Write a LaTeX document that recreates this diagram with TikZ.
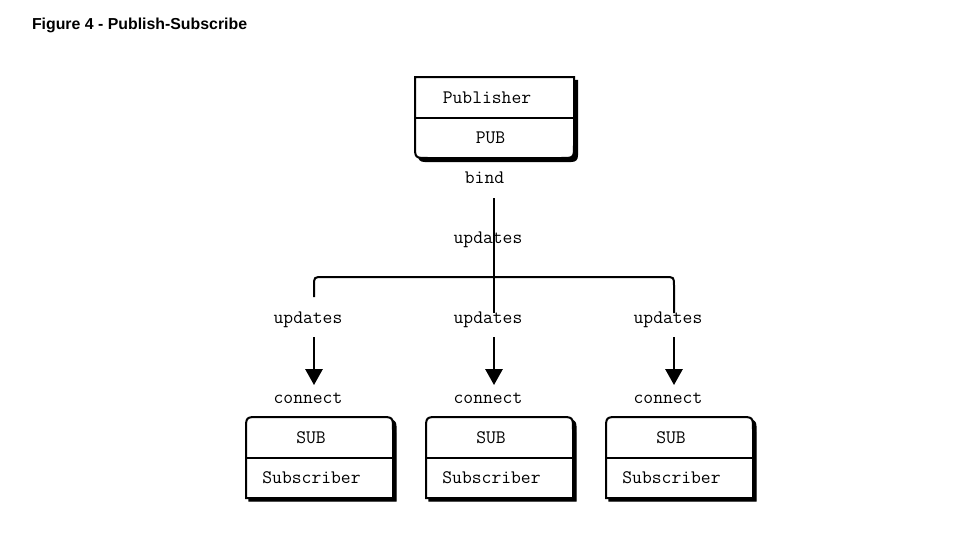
\documentclass[tikz,border=0pt]{standalone}
\usepackage{fontspec}
\setmainfont{Liberation Sans}
\setmonofont{Latin Modern Mono}
\usetikzlibrary{arrows.meta}
\begin{document}
\begin{tikzpicture}[x=0.75pt,y=-0.75pt,line width=1.5pt,
  lbl/.style={font=\ttfamily\fontsize{14.3}{16}\selectfont,inner sep=0pt,anchor=base},
  shadowbox/.style={fill=black,draw=black,line width=1pt},
  boxface/.style={fill=white,draw=black,line width=1.5pt},
  conn/.style={draw=black,line width=1.5pt},
  arr/.style={conn,-{Triangle[length=12pt,width=13pt]}}]
\useasboundingbox (0,0) rectangle (958,543);
% title
\node[font=\bfseries\fontsize{11.9}{14}\selectfont,inner sep=0pt,anchor=base west] (title) at (31,29) {Figure 4 - Publish-Subscribe};
% publisher box
\path[shadowbox,shift={(3.5,3.5)}] (415,77) -- (574,77) -- (574,145) .. controls (574,158) .. (561,158) -- (428,158) .. controls (415,158) .. (415,145) -- cycle;
\path[boxface] (415,77) -- (574,77) -- (574,145) .. controls (574,158) .. (561,158) -- (428,158) .. controls (415,158) .. (415,145) -- cycle;
\draw (415,118) -- (574,118);
\node[lbl] (pubT) at (487,103) {Publisher};
\node[lbl] (pubB) at (490.5,143) {PUB};
% subscriber boxes
\foreach \dx/\i in {0/1,180/2,360/3}{
  \begin{scope}[xshift=\dx*0.75pt]
  \path[shadowbox,shift={(3,3)}] (246,498) -- (246,430) .. controls (246,417) .. (259,417) -- (380,417) .. controls (393,417) .. (393,430) -- (393,498) -- cycle;
  \path[boxface] (246,498) -- (246,430) .. controls (246,417) .. (259,417) -- (380,417) .. controls (393,417) .. (393,430) -- (393,498) -- cycle;
  \draw (246,458) -- (393,458);
  \node[lbl] (subT\i) at (311,443) {SUB};
  \node[lbl] (subB\i) at (311.5,483) {Subscriber};
  \end{scope}
}
% labels
\node[lbl] (bind) at (484.5,183) {bind};
\node[lbl] (upd0) at (488,243) {updates};
\node[lbl] (upd1) at (308,323) {updates};
\node[lbl] (upd2) at (488,323) {updates};
\node[lbl] (upd3) at (668,323) {updates};
\node[lbl] (con1) at (308,403) {connect};
\node[lbl] (con2) at (488,403) {connect};
\node[lbl] (con3) at (668,403) {connect};
% connector coordinates
\coordinate (trunkTop) at (494,198);
\coordinate (midEnd) at (494,313);
\coordinate (leftEnd) at (314,297);
\coordinate (rightEnd) at (674,313);
\coordinate (hub) at (494,277);
\draw[conn] (trunkTop) -- (hub) -- (midEnd);
\draw[conn] (leftEnd) -- (314,286) .. controls (314,277) .. (323,277) -- (hub) -- (665,277) .. controls (674,277) .. (674,286) -- (rightEnd);
\foreach \x/\i in {314/1,494/2,674/3}{
  \coordinate (a\i) at (\x,337);
  \coordinate (b\i) at (\x,385);
  \draw[arr] (a\i) -- (b\i);
}
\end{tikzpicture}
\end{document}
